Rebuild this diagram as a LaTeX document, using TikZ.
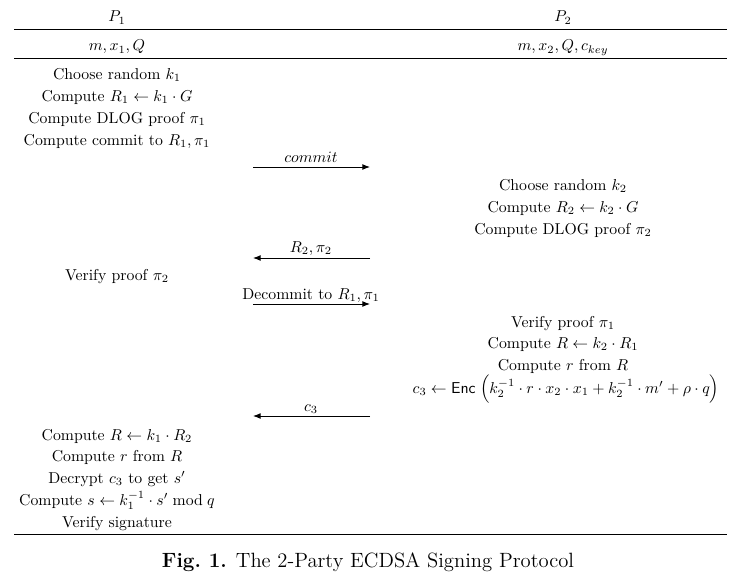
\documentclass[tikz,border=0pt]{standalone}
\usetikzlibrary{arrows.meta}

\begin{document}
\begin{tikzpicture}[
        x=0.0223cm, y=-0.0223cm,
        every node/.style={align=center, inner sep=1pt},
        party/.style={anchor=base},
        stepline/.style={anchor=base},
        rule/.style={line width=0.6pt},
        msg/.style={line width=0.6pt, -{Latex[length=1.7mm, width=1.3mm]}},
        msglabel/.style={anchor=base}
    ]
    \useasboundingbox (0,0) rectangle (735,583);

    % Header
    \node[party] (p1) at (117,22) {$P_1$};
    \node[party] (p2) at (563,22) {$P_2$};
    \coordinate (r1l) at (14,29);
    \coordinate (r1r) at (727,29);
    \draw[rule] (r1l) -- (r1r);
    \node[party] (in1) at (117,51) {$m, x_1, Q$};
    \node[party] (in2) at (563,51) {$m, x_2, Q, c_{key}$};
    \coordinate (r2l) at (14,58);
    \coordinate (r2r) at (727,58);
    \draw[rule] (r2l) -- (r2r);

    % P1: first round
    \node[stepline] (a1) at (117,79) {Choose random $k_1$};
    \node[stepline] (a2) at (117,101) {Compute $R_1 \leftarrow k_1 \cdot G$};
    \node[stepline] (a3) at (117,123) {Compute DLOG proof $\pi_1$};
    \node[stepline] (a4) at (117,145) {Compute commit to $R_1, \pi_1$};

    % commit message
    \coordinate (m1l) at (253,167);
    \coordinate (m1r) at (370,167);
    \draw[msg] (m1l) -- (m1r);
    \node[msglabel] (m1) at (311,162) {$commit$};

    % P2: first round
    \node[stepline] (b1) at (563,190) {Choose random $k_2$};
    \node[stepline] (b2) at (563,212) {Compute $R_2 \leftarrow k_2 \cdot G$};
    \node[stepline] (b3) at (563,234) {Compute DLOG proof $\pi_2$};

    % R2, pi2 message
    \coordinate (m2l) at (253,258);
    \coordinate (m2r) at (370,258);
    \draw[msg] (m2r) -- (m2l);
    \node[msglabel] (m2) at (311,252) {$R_2, \pi_2$};

    \node[stepline] (a5) at (117,280) {Verify proof $\pi_2$};

    % decommit message
    \coordinate (m3l) at (253,304);
    \coordinate (m3r) at (370,304);
    \draw[msg] (m3l) -- (m3r);
    \node[msglabel] (m3) at (311,299) {Decommit to $R_1, \pi_1$};

    % P2: second round
    \node[stepline] (b4) at (563,327) {Verify proof $\pi_1$};
    \node[stepline] (b5) at (563,348) {Compute $R \leftarrow k_2 \cdot R_1$};
    \node[stepline] (b6) at (563,370) {Compute $r$ from $R$};
    \node[stepline] (b7) at (566,393) {$c_3 \leftarrow \textsf{Enc}\;\Bigl(k_2^{-1} \cdot r \cdot x_2 \cdot x_1 + k_2^{-1} \cdot m' + \rho \cdot q\Bigr)$};

    % c3 message
    \coordinate (m4l) at (253,416);
    \coordinate (m4r) at (370,416);
    \draw[msg] (m4r) -- (m4l);
    \node[msglabel] (m4) at (311,411) {$c_3$};

    % P1: final round
    \node[stepline] (a6) at (117,440) {Compute $R \leftarrow k_1 \cdot R_2$};
    \node[stepline] (a7) at (117,461) {Compute $r$ from $R$};
    \node[stepline] (a8) at (117,483) {Decrypt $c_3$ to get $s'$};
    \node[stepline] (a9) at (117,505) {Compute $s \leftarrow k_1^{-1} \cdot s' \bmod q$};
    \node[stepline] (a10) at (117,527) {Verify signature};

    \coordinate (r3l) at (14,534);
    \coordinate (r3r) at (727,534);
    \draw[rule] (r3l) -- (r3r);

    % Caption
    \node[anchor=base] (cap) at (368,567) {\fontsize{13.1}{15}\selectfont\textbf{Fig.~1.} The 2-Party ECDSA Signing Protocol};

\end{tikzpicture}
\end{document}
